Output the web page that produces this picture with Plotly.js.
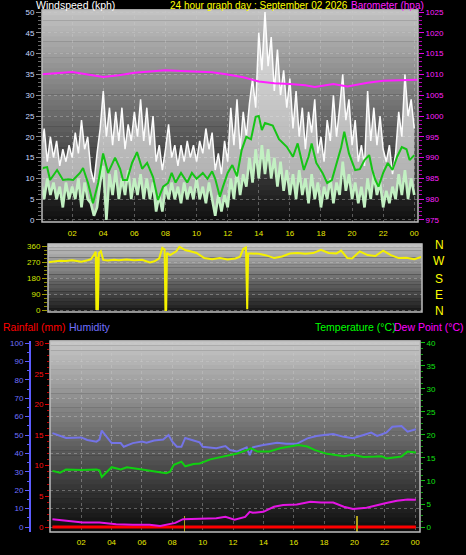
<!DOCTYPE html>
<html><head><meta charset="utf-8">
<script src="https://cdn.plot.ly/plotly-3.0.1.min.js"></script>
<style>html,body{margin:0;padding:0;background:#000;}#chart{width:466px;height:555px;}</style>
</head><body><div id="chart"></div>
<script>
// ---------- data ----------
const hourTicks  = [2,4,6,8,10,12,14,16,18,20,22,24];
const hourLabels = ['02','04','06','08','10','12','14','16','18','20','22','00'];

const windStep = 0.2; // hours between wind samples (starting at 00:00)
const gust = [16,22,14,20,15,19,13,17,14,18,15,21,16,24,17,20,12,9,16,22,31,20,27,18,26,19,27,17,23,19,26,20,29,19,27,18,25,14,18,12,17,
  23,15,18,13,18,14,19,15,18,14,19,16,22,17,21,12,16,11,19,14,27,18,29,17,26,20,28,34,27,45,36,50,37,44,31,41,30,36,27,34,
  22,31,20,27,17,26,21,29,16,20,14,24,19,30,20,27,35,24,29,18,24,14,18,13,31,19,27,18,25,17,14,18,11,16,26,20,35,25,29,22];
const speed = [9,5,10,6,9,5,8,3,9,5,8,5,10,3,9,5,4,1,3,9,13,0,11,6,12,5,10,6,12,5,10,6,11,5,10,5,9,2,6,2,8,
  5,9,5,8,4,9,5,8,5,10,5,8,4,9,5,1,6,2,6,3,10,5,12,6,11,8,15,9,17,10,18,11,17,10,15,8,14,7,12,6,
  11,5,12,6,10,4,11,5,9,3,8,5,10,4,9,6,14,7,11,5,9,4,8,3,10,5,11,6,9,3,7,4,8,5,11,6,12,5,10,6];

const avgHours = [0,0.13,0.39,0.58,1.03,1.41,1.74,2.06,2.5,2.7,3.02,3.34,3.67,3.99,4.31,4.76,5.08,5.27,5.53,5.85,
  6.17,6.5,6.82,7.2,7.52,7.85,8.17,8.4,8.65,9.0,9.4,9.7,10.0,10.4,10.7,11.0,11.2,11.5,11.7,12.0,
  12.3,12.6,12.9,13.2,13.5,13.8,14.0,14.2,14.4,14.9,15.3,15.8,16.2,16.5,16.9,17.2,17.4,17.7,18.1,18.4,
  18.7,19.0,19.3,19.5,19.8,20.2,20.5,20.8,21.1,21.3,21.5,21.7,22.0,22.3,22.6,22.9,23.2,23.5,23.7,24.0];
const avgSpeed = [12,12.5,12.7,9.6,12,9.6,9.8,9.6,11.3,12.5,8.9,4,8.9,16,11.3,15,12.3,9.6,9.6,13.7,
  16.3,12.3,13.7,10.3,4.8,8,8.9,11.3,9,11.3,9,11.3,9.9,11.3,9.9,11.7,9.9,5.6,8,11.3,
  13.2,10.5,16.8,20,19.4,24.8,25,21.6,23.3,22.7,19.4,17.6,15.2,18.4,12,15.2,18.4,13.7,11.3,8.9,
  9.6,13.7,17.5,21.2,16,12,12.2,14.4,15.6,12,9.6,8,11.3,13.7,12,15.2,17.5,17,14.4,15.6];

const baroHours = [0,1,2,3,4,5,6,7,8,9,10,11,12,13,14,15,16,17,17.6,18.8,19.7,21,22,23,24.2];
const baro = [1010.0,1010.3,1010.6,1010.0,1009.4,1009.8,1010.4,1010.7,1011.0,1010.8,1010.6,1010.5,1010.0,1009.3,1008.3,1007.9,1007.7,1007.4,1007.0,1007.7,1007.1,1008.0,1008.5,1008.6,1008.7];

const dirHours = [0.45,0.8,1.2,1.6,2.0,2.3,2.6,3.0,3.2,3.4,3.52,3.56,3.62,3.66,3.72,3.85,4.0,4.3,4.7,5.0,5.5,6.0,6.5,7.0,7.3,7.6,7.8,7.95,8.0,8.05,8.1,
  8.3,8.5,8.7,8.9,9.1,9.3,9.6,10.0,10.5,11.0,11.5,12.0,12.5,12.8,13.0,13.18,13.26,13.32,13.5,14.0,14.5,15.0,15.5,16.0,16.5,17.0,17.5,
  18.0,18.5,19.0,19.3,19.7,20.0,20.5,21.0,21.5,22.0,22.5,23.0,23.5,24.0,24.45];
const dirDeg = [268,272,277,275,280,276,272,280,285,309,327,0,300,0,320,331,282,278,283,280,284,280,282,268,274,290,349,340,0,0,321,
  309,321,330,356,348,336,330,321,292,286,292,284,290,300,343,352,5,318,318,316,307,292,301,318,321,316,320,
  338,321,318,334,292,290,330,309,304,334,309,292,294,286,298];

const humHours = [0.1,0.6,1.0,2.0,2.4,3.0,3.2,3.35,3.7,4.0,4.6,4.8,5.4,6.0,6.3,6.8,7.4,7.75,8.0,8.3,8.6,8.85,9.4,9.8,
  10.0,10.9,11.5,11.8,12.25,12.9,13.1,13.3,14.0,14.9,15.5,16.2,16.9,17.5,18.0,18.6,19.3,19.9,20.6,21.1,21.5,22.1,22.5,23.1,23.5,24.05];
const humVals = [51,49.5,48.4,48.7,47.3,46.4,47.5,52.4,48.4,45.6,45.6,43.6,45.6,46.4,45.8,47,47.6,50,46.4,43.6,43.6,48.4,47,46,
  43.6,42.8,44,41.8,41,43.3,39,43.3,44.6,45.8,45.2,45.2,48.2,49.5,50,50.5,49,48.2,50,51.3,49.5,51.3,54.5,54.9,51.8,53.1];

const tempHours = [0.1,0.6,1.0,2.0,3.0,3.2,3.35,3.7,4.0,4.6,5.0,6.0,7.0,7.6,7.85,8.1,8.6,8.85,9.4,9.8,10.5,11.3,12.2,12.9,
  13.2,13.6,14.4,15.1,15.8,16.3,16.9,17.4,18.2,19.3,19.9,20.6,21.4,21.8,22.1,23.1,23.5,24.05];
const tempVals = [12.2,11.8,12.5,12.4,12.5,12.3,10.9,12,13,12.5,13,12.5,12,11.7,12,13.5,14.2,13.2,13.7,13.8,14.7,15.2,15.9,16.7,
  17.1,16.4,16.4,17.1,17.5,17.8,17.5,16.7,15.9,15.4,15.7,15.2,15.3,15.4,14.9,15.3,16.4,16.2];

const dewHours = [0.1,1.0,2.1,3.2,4.3,5.4,6.5,7.2,7.75,8.2,8.7,9.35,10.0,10.9,11.5,12.1,12.8,13.1,13.3,14.0,14.7,15.3,16.2,17.1,17.8,
  18.6,19.3,19.9,20.8,21.5,22.1,22.8,23.5,24.05];
const dewVals = [1.7,1.4,1.0,1.0,0.6,0.5,0.5,0.2,0.5,0.9,1.7,1.8,1.9,1.9,2.2,1.6,2.2,3.3,3.1,3.3,4.4,4.8,4.9,5.5,5.3,
  5.3,4.4,3.9,4.2,4.8,5.2,5.7,6.0,5.9];

const rainHours = [0.1,24.05];
const rainVals = [0,0];

const markHours = [8.8,20.16];
const markTop = [3.3,3.3];

// ---------- helpers (layout only) ----------
const W = 466, H = 555;
const px = v => v / W;
const py = v => 1 - v / H;
const FONT = 'Liberation Sans, Arial, sans-serif';
const GRID = 'rgba(205,205,205,0.38)';

function bands(xr, yr, top, bottom, n) {
  const out = [];
  for (let k = 0; k < n; k++) {
    const t = (k + 0.5) / n;
    const c = Math.round(bottom + (top - bottom) * t);
    out.push({type:'rect', xref:xr, yref:yr, x0:0, x1:1, y0:k/n, y1:(k+1)/n + 0.002,
      fillcolor:`rgb(${c},${c},${c})`, line:{width:0}, layer:'below'});
  }
  out.push({type:'rect', xref:xr, yref:yr, x0:0, x1:1, y0:0, y1:1,
    line:{color:'#bdbdbd', width:1.5}, fillcolor:'rgba(0,0,0,0)', layer:'above'});
  return out;
}
function note(text, x, y, color, size, anchor) {
  return {text:text, xref:'paper', yref:'paper', x:px(x), y:py(y), xanchor:anchor || 'left', yanchor:'middle',
    showarrow:false, font:{family:FONT, size:size, color:color}};
}

// ---------- traces ----------
const traces = [
  {x0:0, dx:windStep, y:speed, xaxis:'x', yaxis:'y', mode:'lines', line:{width:0, color:'rgba(0,0,0,0)'}, hoverinfo:'skip'},
  {x0:0, dx:windStep, y:gust, xaxis:'x', yaxis:'y', mode:'lines', fill:'tonexty', fillcolor:'rgba(238,238,238,0.68)',
    line:{width:1.5, color:'rgba(255,255,255,0.97)'}},
  {x0:0, dx:windStep, y:speed, xaxis:'x', yaxis:'y', mode:'lines', line:{width:2.6, color:'#c2f0c2'}},
  {x:avgHours, y:avgSpeed, xaxis:'x', yaxis:'y', mode:'lines', line:{width:2, color:'#16c416'}},
  {x:baroHours, y:baro, xaxis:'x', yaxis:'y2', mode:'lines', line:{width:2, color:'#ff20ff'}},

  {x:dirHours, y:dirDeg, xaxis:'x2', yaxis:'y3', mode:'lines', line:{width:2, color:'#f4f000'}},

  {type:'bar', x:markHours, y:markTop, base:-1.0, width:0.12, xaxis:'x3', yaxis:'y6', marker:{color:'#b0a018'}},
  {x:humHours, y:humVals, xaxis:'x3', yaxis:'y4', mode:'lines', line:{width:2, color:'#7474e6'}},
  {x:tempHours, y:tempVals, xaxis:'x3', yaxis:'y6', mode:'lines', line:{width:2, color:'#10d010'}},
  {x:dewHours, y:dewVals, xaxis:'x3', yaxis:'y6', mode:'lines', line:{width:2, color:'#e414e4'}},
  {x:rainHours, y:rainVals, xaxis:'x3', yaxis:'y5', mode:'lines', line:{width:3, color:'#ff0000'}}
];

const tickF = c => ({family:FONT, size:8, color:c});
const layout = {
  width:W, height:H, autosize:false, margin:{l:0,r:0,t:0,b:0},
  paper_bgcolor:'#000', plot_bgcolor:'rgba(0,0,0,0)', showlegend:false, hovermode:false, bargap:0,
  xaxis:{domain:[px(42),px(418)], range:[0.06,24.24], anchor:'y', tickmode:'array', tickvals:hourTicks, ticktext:hourLabels,
    tickfont:tickF('#e8e800'), ticks:'', ticklabelstandoff:5, showgrid:true, gridcolor:GRID, griddash:'dot', zeroline:false, showline:false},
  yaxis:{domain:[py(222),py(10)], range:[-0.5,50.5], tick0:0, dtick:5, tickfont:tickF('#c8d8ff'), ticks:'outside', ticklen:5,
    tickcolor:'#8a8a8a', minor:{dtick:1, ticks:'outside', ticklen:3, tickcolor:'#6a6a6a'}, showgrid:true, gridcolor:GRID, griddash:'dot', zeroline:false},
  yaxis2:{overlaying:'y', side:'right', anchor:'x', range:[974.5,1025.5], tick0:975, dtick:5, tickfont:tickF('#ff20ff'), ticks:'outside',
    ticklen:5, tickcolor:'#e000e0', minor:{dtick:1, ticks:'outside', ticklen:3, tickcolor:'#b000b0'}, showgrid:false, zeroline:false},

  xaxis2:{domain:[px(48),px(422)], range:[0.45,24.5], anchor:'y3', showticklabels:false, ticks:'', showgrid:false, zeroline:false},
  yaxis3:{domain:[py(312),py(244)], anchor:'x2', range:[-11.25,371.25], tick0:0, dtick:90, tickfont:tickF('#d4e400'), ticks:'outside',
    ticklen:5, tickcolor:'#9a9a00', minor:{dtick:22.5, ticks:'outside', ticklen:3, tickcolor:'#8a8a00'}, showgrid:true, gridcolor:GRID, griddash:'dot', zeroline:false},

  xaxis3:{domain:[px(50),px(420)], range:[-0.06,24.32], anchor:'y4', tickmode:'array', tickvals:hourTicks, ticktext:hourLabels,
    tickfont:tickF('#e8e800'), ticks:'', ticklabelstandoff:4, showgrid:true, gridcolor:GRID, griddash:'dot', zeroline:false},
  yaxis4:{domain:[py(532),py(341)], anchor:'free', position:px(30), side:'left', range:[-2.72,101.1], tick0:0, dtick:10,
    tickfont:tickF('#7070ff'), showline:true, linecolor:'#5c5cff', linewidth:2, ticks:'outside', ticklen:4, tickcolor:'#5c5cff',
    minor:{dtick:5, ticks:'outside', ticklen:2, tickcolor:'#5c5cff'}, showgrid:true, gridcolor:GRID, griddash:'dot', zeroline:false},
  yaxis5:{overlaying:'y4', anchor:'x3', side:'left', range:[-0.815,30.33], tick0:0, dtick:5, tickfont:tickF('#ff1010'), ticks:'outside',
    ticklen:4, tickcolor:'#e00000', minor:{dtick:1, ticks:'outside', ticklen:2, tickcolor:'#c00000'}, showgrid:false, zeroline:false},
  yaxis6:{overlaying:'y4', anchor:'x3', side:'right', range:[-1.087,40.43], tick0:0, dtick:5, tickfont:tickF('#10e010'), ticks:'outside',
    ticklen:4, tickcolor:'#10c010', minor:{dtick:1.25, ticks:'outside', ticklen:2, tickcolor:'#10a010'}, showgrid:false, zeroline:false},

  shapes:[].concat(bands('x domain','y domain',196,14,40), bands('x2 domain','y3 domain',196,24,20), bands('x3 domain','y4 domain',200,10,40)),
  annotations:[
    note('Windspeed (kph)', 34, 5, '#ffffff', 10.5),
    note('24 hour graph day : September 02 2026', 168, 5, '#ffff00', 10),
    note('Barometer (hpa)', 349, 5, '#ff20ff', 10),
    note('N', 439, 245, '#ffff00', 12, 'center'),
    note('W', 439, 261, '#ffff00', 12, 'center'),
    note('S', 439, 279, '#ffff00', 12, 'center'),
    note('E', 439, 295, '#ffff00', 12, 'center'),
    note('N', 439, 311, '#ffff00', 12, 'center'),
    note('Rainfall (mm)', 1, 327, '#ff0000', 10.5),
    note('Humidity', 67, 327, '#7070ff', 10.5),
    note('Temperature (°C)', 313, 327, '#00ff00', 10.5),
    note('Dew Point (°C)', 392, 327, '#ff00ff', 10.5)
  ]
};

Plotly.newPlot('chart', traces, layout, {staticPlot:true, displayModeBar:false});
</script>
</body></html>
